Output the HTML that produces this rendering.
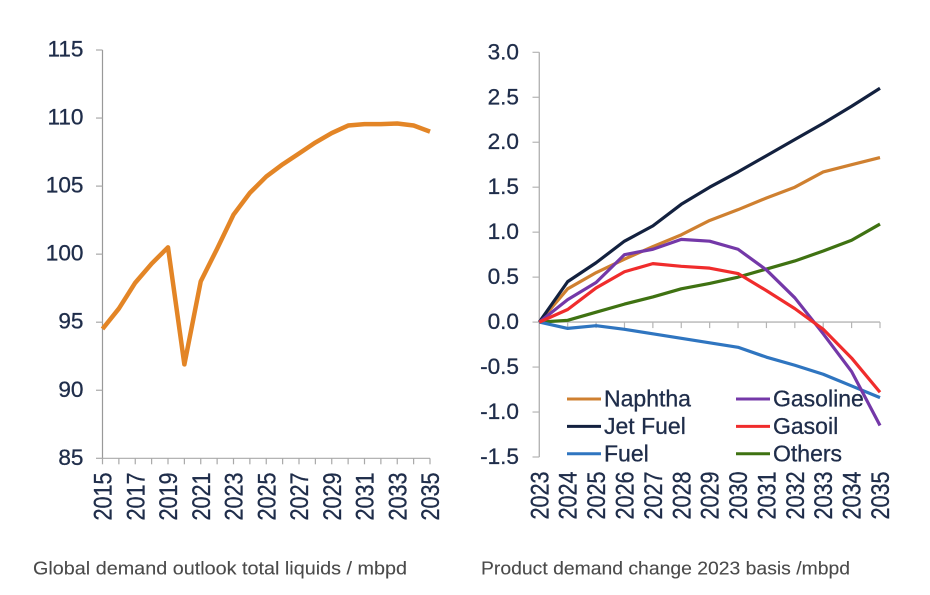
<!DOCTYPE html>
<html lang="en">
<head>
<meta charset="utf-8">
<title>Global demand outlook and product demand change</title>
<style>
html,body{margin:0;padding:0;background:#fff;}
body{width:930px;height:595px;overflow:hidden;}
svg{display:block;filter:blur(0.35px);}
text{font-family:"Liberation Sans",Arial,sans-serif;fill:#1f2d4a;stroke:#1f2d4a;stroke-width:0.3px;}
text.cap{font-family:"Liberation Sans",sans-serif;fill:#4a4a4a;stroke:#4a4a4a;stroke-width:0.1px;}
</style>
</head>
<body>
<svg id="root" width="930" height="595" viewBox="0 0 930 595" xmlns="http://www.w3.org/2000/svg">
<rect width="930" height="595" fill="#ffffff"/>
<g id="left"></g>
<g id="right"></g>
<text class="cap" x="33" y="574.5" font-size="18.5" textLength="374" lengthAdjust="spacingAndGlyphs">Global demand outlook total liquids / mbpd</text>
<text class="cap" x="481" y="574.5" font-size="18.5" textLength="369" lengthAdjust="spacingAndGlyphs">Product demand change 2023 basis /mbpd</text>
</svg>
<script>
var leftYears = [2015,2016,2017,2018,2019,2020,2021,2022,2023,2024,2025,2026,2027,2028,2029,2030,2031,2032,2033,2034,2035];
var leftValues = [94.5,96,97.9,99.3,100.5,91.9,98,100.4,102.9,104.5,105.7,106.6,107.4,108.2,108.9,109.45,109.55,109.55,109.6,109.45,109];
var leftYTicks = [85,90,95,100,105,110,115];
var rightYears = [2023,2024,2025,2026,2027,2028,2029,2030,2031,2032,2033,2034,2035];
var rightYTicks = [-1.5,-1,-0.5,0,0.5,1,1.5,2,2.5,3];
var naphtha = [0,0.37,0.55,0.7,0.84,0.97,1.13,1.25,1.38,1.5,1.67,1.75,1.83];
var jetFuel = [0,0.45,0.66,0.9,1.07,1.31,1.5,1.67,1.85,2.03,2.21,2.4,2.6];
var fuel = [0,-0.07,-0.04,-0.08,-0.13,-0.18,-0.23,-0.28,-0.39,-0.48,-0.58,-0.71,-0.84];
var gasoline = [0,0.25,0.44,0.75,0.81,0.92,0.9,0.81,0.58,0.27,-0.13,-0.55,-1.15];
var gasoil = [0,0.14,0.38,0.56,0.65,0.62,0.6,0.54,0.35,0.15,-0.08,-0.4,-0.78];
var others = [0,0.02,0.11,0.2,0.28,0.37,0.43,0.5,0.59,0.68,0.79,0.91,1.09];

var NS = 'http://www.w3.org/2000/svg';
function make(parent, tag, attrs, txt) {
  var el = document.createElementNS(NS, tag);
  for (var k in attrs) el.setAttribute(k, attrs[k]);
  if (txt !== undefined) el.textContent = txt;
  parent.appendChild(el);
  return el;
}
function scale(d0, d1, r0, r1) {
  return function (v) { return r0 + (v - d0) * (r1 - r0) / (d1 - d0); };
}
function polyPoints(vals, xf, yf, cats) {
  return vals.map(function (v, i) { return xf(cats[i]).toFixed(2) + ',' + yf(v).toFixed(2); }).join(' ');
}
var axisColor = '#a9a9a9';

/* LEFT CHART */
var gL = document.getElementById('left');
var lx = scale(2015, 2035, 102.5, 430);
var ly = scale(85, 115, 458.3, 50);
var lAxisY = make(gL, 'line', {x1: 102.5, x2: 102.5, y1: ly(115), y2: ly(85), stroke: '#999', 'stroke-width': 1.2});


var lAxisX = make(gL, 'line', {x1: 102.5, x2: 430, y1: ly(85), y2: ly(85), stroke: axisColor, 'stroke-width': 1.2});


leftYTicks.forEach(function (t) {
  make(gL, 'line', {x1: 96, x2: 102.5, y1: ly(t), y2: ly(t), stroke: axisColor, 'stroke-width': 1.2});
  var lab = make(gL, 'text', {x: 83.5, y: ly(t) + 6.5, 'font-size': 22.6, 'text-anchor': 'end'}, String(t));
  
  
});
leftYears.forEach(function (yr, i) {
  make(gL, 'line', {x1: lx(yr), x2: lx(yr), y1: ly(85), y2: ly(85) + 6, stroke: axisColor, 'stroke-width': 1.2});
  if (i % 2 === 0) {
    var lab = make(gL, 'text', {transform: 'translate(' + (lx(yr) + 9) + ',520.5) rotate(-90) scale(1,1.15)', 'font-size': 21.6}, String(yr));
    
    
  }
});
var lLine = make(gL, 'polyline', {points: polyPoints(leftValues, lx, ly, leftYears), fill: 'none', stroke: '#e38526', 'stroke-width': 4.5, 'stroke-linejoin': 'round', 'stroke-linecap': 'butt'});



/* RIGHT CHART */
var gR = document.getElementById('right');
var rx = scale(2023, 2035, 539.3, 880);
var ry = scale(-1.5, 3, 457, 52.3);
var rAxisY = make(gR, 'line', {x1: 539.3, x2: 539.3, y1: ry(3), y2: ry(-1.5), stroke: '#b5b5b5', 'stroke-width': 1.4});


var rAxisX = make(gR, 'line', {x1: 539.3, x2: 880, y1: ry(0), y2: ry(0), stroke: '#b5b5b5', 'stroke-width': 1.4});


rightYTicks.forEach(function (t) {
  make(gR, 'line', {x1: 532.5, x2: 539.3, y1: ry(t), y2: ry(t), stroke: '#b5b5b5', 'stroke-width': 1.2});
  var lab = make(gR, 'text', {x: 519, y: ry(t) + 7, 'font-size': 22.6, 'text-anchor': 'end'}, t.toFixed(1));
  
  
});
rightYears.forEach(function (yr) {
  make(gR, 'line', {x1: rx(yr), x2: rx(yr), y1: ry(0), y2: ry(0) + 6, stroke: '#b5b5b5', 'stroke-width': 1.2});
  var lab = make(gR, 'text', {transform: 'translate(' + (rx(yr) + 9) + ',519.5) rotate(-90) scale(1,1.15)', 'font-size': 21.6}, String(yr));
  
  
});
var series = [
  {name: 'Others', vals: others, color: '#3f7212'},
  {name: 'Fuel', vals: fuel, color: '#2f75c0'},
  {name: 'Naphtha', vals: naphtha, color: '#cf8030'},
  {name: 'Jet Fuel', vals: jetFuel, color: '#13213f'},
  {name: 'Gasoline', vals: gasoline, color: '#7438a8'},
  {name: 'Gasoil', vals: gasoil, color: '#f02c2c'}
];
series.forEach(function (s) {
  var p = make(gR, 'polyline', {points: polyPoints(s.vals, rx, ry, rightYears), fill: 'none', stroke: s.color, 'stroke-width': 3.2, 'stroke-linejoin': 'round'});
  
  
});

/* LEGEND */
var legendEntries = [
  {name: 'Naphtha', color: '#cf8030', col: 0, row: 0},
  {name: 'Jet Fuel', color: '#13213f', col: 0, row: 1},
  {name: 'Fuel', color: '#2f75c0', col: 0, row: 2},
  {name: 'Gasoline', color: '#7438a8', col: 1, row: 0},
  {name: 'Gasoil', color: '#f02c2c', col: 1, row: 1},
  {name: 'Others', color: '#3f7212', col: 1, row: 2}
];
legendEntries.forEach(function (e) {
  var x0 = e.col === 0 ? 567 : 736;
  var y0 = 399 + e.row * 27.4;
  var g = make(gR, 'g', {});
  
  
  make(g, 'line', {x1: x0, x2: x0 + 34, y1: y0, y2: y0, stroke: e.color, 'stroke-width': 3});
  make(g, 'text', {x: x0 + 37, y: y0 + 7.5, 'font-size': 23}, e.name);
});
</script>
</body>
</html>
